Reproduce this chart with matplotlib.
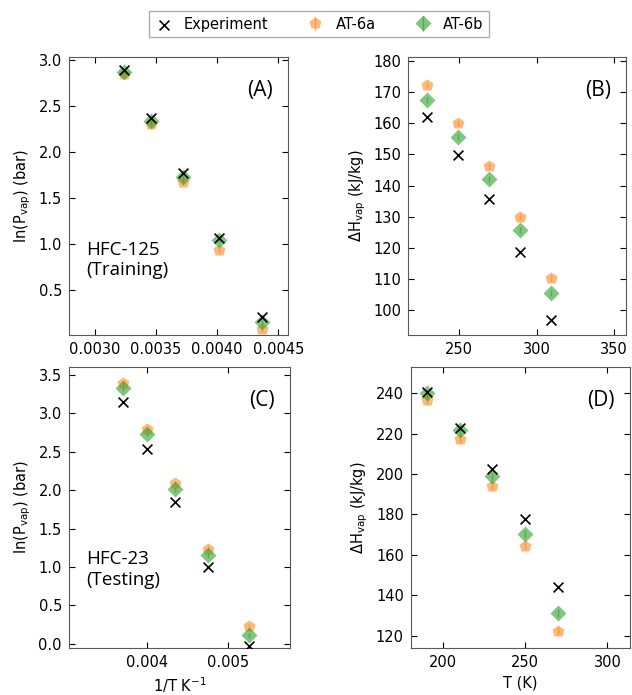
import numpy as np
import matplotlib
matplotlib.use("Agg")
import matplotlib.pyplot as plt

# HFC-125 (training)
T_125 = np.array([229, 249, 269, 289, 309])
lnp_exp_125 = [0.21, 1.06, 1.77, 2.37, 2.89]
lnp_a_125 = [0.07, 0.93, 1.67, 2.30, 2.84]
lnp_b_125 = [0.15, 1.04, 1.73, 2.33, 2.87]
h_exp_125 = [162.1, 149.8, 135.6, 118.5, 96.7]
h_a_125 = [172.3, 160.0, 146.3, 130.0, 110.2]
h_b_125 = [167.5, 155.7, 142.0, 125.8, 105.5]

# HFC-23 (testing)
T_23 = np.array([190, 210, 230, 250, 270])
lnp_exp_23 = [-0.03, 1.00, 1.84, 2.54, 3.14]
lnp_a_23 = [0.23, 1.24, 2.09, 2.79, 3.39]
lnp_b_23 = [0.11, 1.15, 2.01, 2.73, 3.32]
h_exp_23 = [240.5, 222.7, 202.6, 177.7, 144.0]
h_a_23 = [236.7, 217.4, 194.2, 164.5, 122.1]
h_b_23 = [240.3, 221.7, 198.8, 170.3, 131.2]

# small uncertainties on the simulated points
err_lnp = 0.03
err_h = 1.0

ORANGE = "tab:orange"
GREEN = "tab:green"

plt.rcParams['font.family'] = ['DejaVu Sans']
plt.rcParams['font.size'] = 10.5

fig = plt.figure(figsize=(6.32, 6.95), dpi=100)
axA = fig.add_axes([0.109, 0.518, 0.347, 0.400])
axB = fig.add_axes([0.646, 0.518, 0.345, 0.400])
axC = fig.add_axes([0.109, 0.068, 0.350, 0.404])
axD = fig.add_axes([0.650, 0.068, 0.347, 0.404])


def draw(ax, x, exp, a, b, err):
    ax.scatter(x, exp, marker='x', color='black', s=50, lw=1.2, zorder=3, label='Experiment')
    ax.errorbar(x, a, yerr=err, fmt='p', color=ORANGE, ms=9, alpha=0.55,
                mec='none', elinewidth=1, label='AT-6a', zorder=2)
    ax.errorbar(x, b, yerr=err, fmt='D', color=GREEN, ms=8, alpha=0.6,
                mec='none', elinewidth=1, label='AT-6b', zorder=2)
    ax.tick_params(direction='in', top=True, right=True, length=4, labelsize=10.5,
                   pad=5)
    for s in ax.spines.values():
        s.set_color('0.35')


draw(axA, 1 / T_125, lnp_exp_125, lnp_a_125, lnp_b_125, err_lnp)
axA.set_xlim(0.00279, 0.00458)
axA.set_ylim(0.01, 3.03)
axA.set_xticks([0.0030, 0.0035, 0.0040, 0.0045])
axA.set_ylabel(r'ln(P$_{\rm vap}$) (bar)')

draw(axB, T_125, h_exp_125, h_a_125, h_b_125, err_h)
axB.set_xlim(217, 358)
axB.set_ylim(92, 181.3)
axB.set_xticks([250, 300, 350])
axB.set_ylabel(r'$\Delta$H$_{\rm vap}$ (kJ/kg)')

draw(axC, 1 / T_23, lnp_exp_23, lnp_a_23, lnp_b_23, err_lnp)
axC.set_xlim(0.00304, 0.00577)
axC.set_ylim(-0.05, 3.60)
axC.set_xticks([0.004, 0.005])
axC.set_ylabel(r'ln(P$_{\rm vap}$) (bar)')
axC.set_xlabel(r'1/T K$^{-1}$')

draw(axD, T_23, h_exp_23, h_a_23, h_b_23, err_h * 2)
axD.set_xlim(180.3, 313.8)
axD.set_ylim(114, 253)
axD.set_ylabel(r'$\Delta$H$_{\rm vap}$ (kJ/kg)')
axD.set_xlabel('T (K)')

# panel labels
lab_font = ['Open Sans', 'DejaVu Sans']
for ax, t in zip([axA, axB, axC, axD], ['(A)', '(B)', '(C)', '(D)']):
    ax.text(0.93, 0.88, t, transform=ax.transAxes, ha='right', va='center',
            fontsize=15, family=lab_font)
axA.text(0.08, 0.27, 'HFC-125\n(Training)', transform=axA.transAxes, ha='left',
         va='center', fontsize=13.5, family=lab_font, linespacing=1.2)
axC.text(0.08, 0.28, 'HFC-23\n(Testing)', transform=axC.transAxes, ha='left',
         va='center', fontsize=13.5, family=lab_font, linespacing=1.2)

handles, labels = axA.get_legend_handles_labels()
fig.legend(handles, labels, loc='upper center', bbox_to_anchor=(0.505, 0.995),
           ncol=3, fontsize=10.5, columnspacing=2.6, handletextpad=0.8,
           handlelength=1.2, frameon=True, edgecolor='0.6', fancybox=False)

fig.savefig('out.png', dpi=100)
